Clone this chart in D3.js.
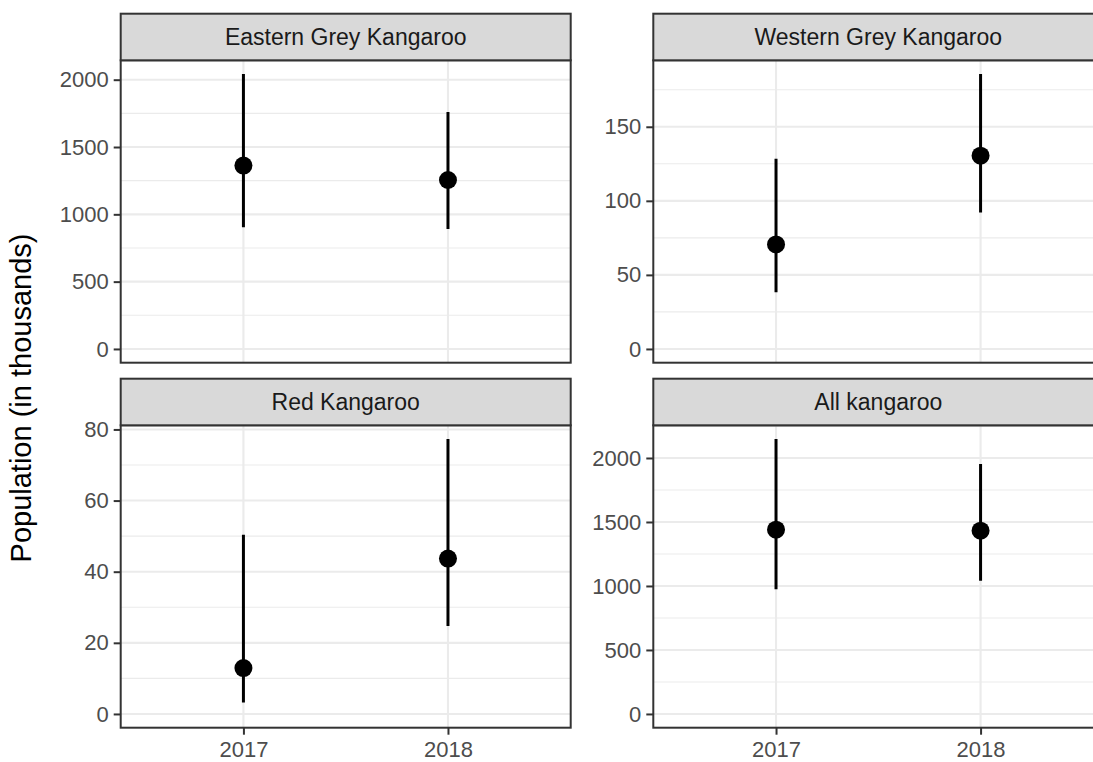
<!DOCTYPE html>
<html><head><meta charset="utf-8">
<script src="https://cdn.jsdelivr.net/npm/d3@7"></script>
<style>body{margin:0;background:#fff;} svg{display:block;font-family:"Liberation Sans",Arial,sans-serif;}</style>
</head><body>
<script>
const years = ["2017", "2018"];
const panels = ["Eastern Grey Kangaroo", "Western Grey Kangaroo", "Red Kangaroo", "All kangaroo"];
const estimate = [[1362, 1255], [70.6, 130.5], [12.9, 43.7], [1440, 1432]];
const lower = [[904, 891], [38.3, 92.1], [3.2, 24.7], [974, 1040]];
const upper = [[2042, 1760], [128.4, 185.6], [50.4, 77.3], [2148, 1953]];
const majorTicks = [[0, 500, 1000, 1500, 2000], [0, 50, 100, 150], [0, 20, 40, 60, 80], [0, 500, 1000, 1500, 2000]];
const minorTicks = [[250, 750, 1250, 1750], [25, 75, 125, 175], [10, 30, 50, 70], [250, 750, 1250, 1750, 2250]];
const yTitle = "Population (in thousands)";

const W = 1093, H = 762;
const svg = d3.select("body").append("svg").attr("width", W).attr("height", H);
svg.append("rect").attr("width", W).attr("height", H).attr("fill", "#fff");

const colX = [120.7, 653.3], panelW = 450;
const rowStrip = [13.7, 378.7], stripH = 46.6, plotH = 302.4;
const fontTick = 22, fontStrip = 23;

panels.forEach((name, i) => {
  const col = i % 2, row = Math.floor(i / 2);
  const x0 = colX[col], sy = rowStrip[row], py = sy + stripH;
  const g = svg.append("g");
  const ymax = d3.max(upper[i]);
  const span = ymax - 0;
  const y = d3.scaleLinear().domain([0 - 0.05 * span, ymax + 0.05 * span]).range([py + plotH, py]);
  const x = d3.scalePoint().domain(years).range([x0, x0 + panelW]).padding(0.6);
  const clipId = "clip" + i;
  svg.append("clipPath").attr("id", clipId).append("rect").attr("x", x0).attr("y", py).attr("width", panelW).attr("height", plotH);
  const pg = g.append("g").attr("clip-path", `url(#${clipId})`);
  pg.selectAll(".minor").data(minorTicks[i].filter(v => y(v) >= py && y(v) <= py + plotH)).join("line")
    .attr("x1", x0).attr("x2", x0 + panelW).attr("y1", d => y(d)).attr("y2", d => y(d))
    .attr("stroke", "#EBEBEB").attr("stroke-width", 1.1);
  pg.selectAll(".major").data(majorTicks[i]).join("line")
    .attr("x1", x0).attr("x2", x0 + panelW).attr("y1", d => y(d)).attr("y2", d => y(d))
    .attr("stroke", "#EBEBEB").attr("stroke-width", 2.1);
  pg.selectAll(".vmajor").data(years).join("line")
    .attr("x1", d => x(d)).attr("x2", d => x(d)).attr("y1", py).attr("y2", py + plotH)
    .attr("stroke", "#EBEBEB").attr("stroke-width", 2.1);
  pg.selectAll(".err").data(years).join("line")
    .attr("x1", d => x(d)).attr("x2", d => x(d))
    .attr("y1", (d, j) => y(lower[i][j])).attr("y2", (d, j) => y(upper[i][j]))
    .attr("stroke", "#000").attr("stroke-width", 3);
  pg.selectAll(".pt").data(years).join("circle")
    .attr("cx", d => x(d)).attr("cy", (d, j) => y(estimate[i][j])).attr("r", 9).attr("fill", "#000");
  g.append("rect").attr("x", x0).attr("y", py).attr("width", panelW).attr("height", plotH)
    .attr("fill", "none").attr("stroke", "#333333").attr("stroke-width", 2);
  g.append("rect").attr("x", x0).attr("y", sy).attr("width", panelW).attr("height", stripH)
    .attr("fill", "#D9D9D9").attr("stroke", "#333333").attr("stroke-width", 2);
  g.append("text").attr("x", x0 + panelW / 2).attr("y", sy + stripH / 2).attr("text-anchor", "middle")
    .attr("dominant-baseline", "central").attr("font-size", fontStrip).attr("fill", "#1A1A1A").text(name);
  const ya = g.append("g").attr("transform", `translate(${x0},0)`)
    .call(d3.axisLeft(y).tickValues(majorTicks[i]).tickSize(7).tickPadding(5).tickFormat(d3.format("d")));
  ya.select(".domain").remove();
  ya.selectAll(".tick line").attr("stroke", "#333333").attr("stroke-width", 2);
  ya.selectAll(".tick text").attr("font-size", fontTick).attr("fill", "#4D4D4D").attr("font-family", "Liberation Sans, Arial, sans-serif");
  if (row === 1) {
    const xa = g.append("g").attr("transform", `translate(0,${py + plotH})`)
      .call(d3.axisBottom(x).tickSize(7).tickPadding(7));
    xa.select(".domain").remove();
    xa.selectAll(".tick line").attr("stroke", "#333333").attr("stroke-width", 2);
    xa.selectAll(".tick text").attr("font-size", fontTick).attr("fill", "#4D4D4D").attr("font-family", "Liberation Sans, Arial, sans-serif");
  }
});

svg.append("text").attr("transform", "translate(31,398) rotate(-90)").attr("text-anchor", "middle")
  .attr("font-size", 29).attr("fill", "#000").text(yTitle);
</script>
</body></html>
